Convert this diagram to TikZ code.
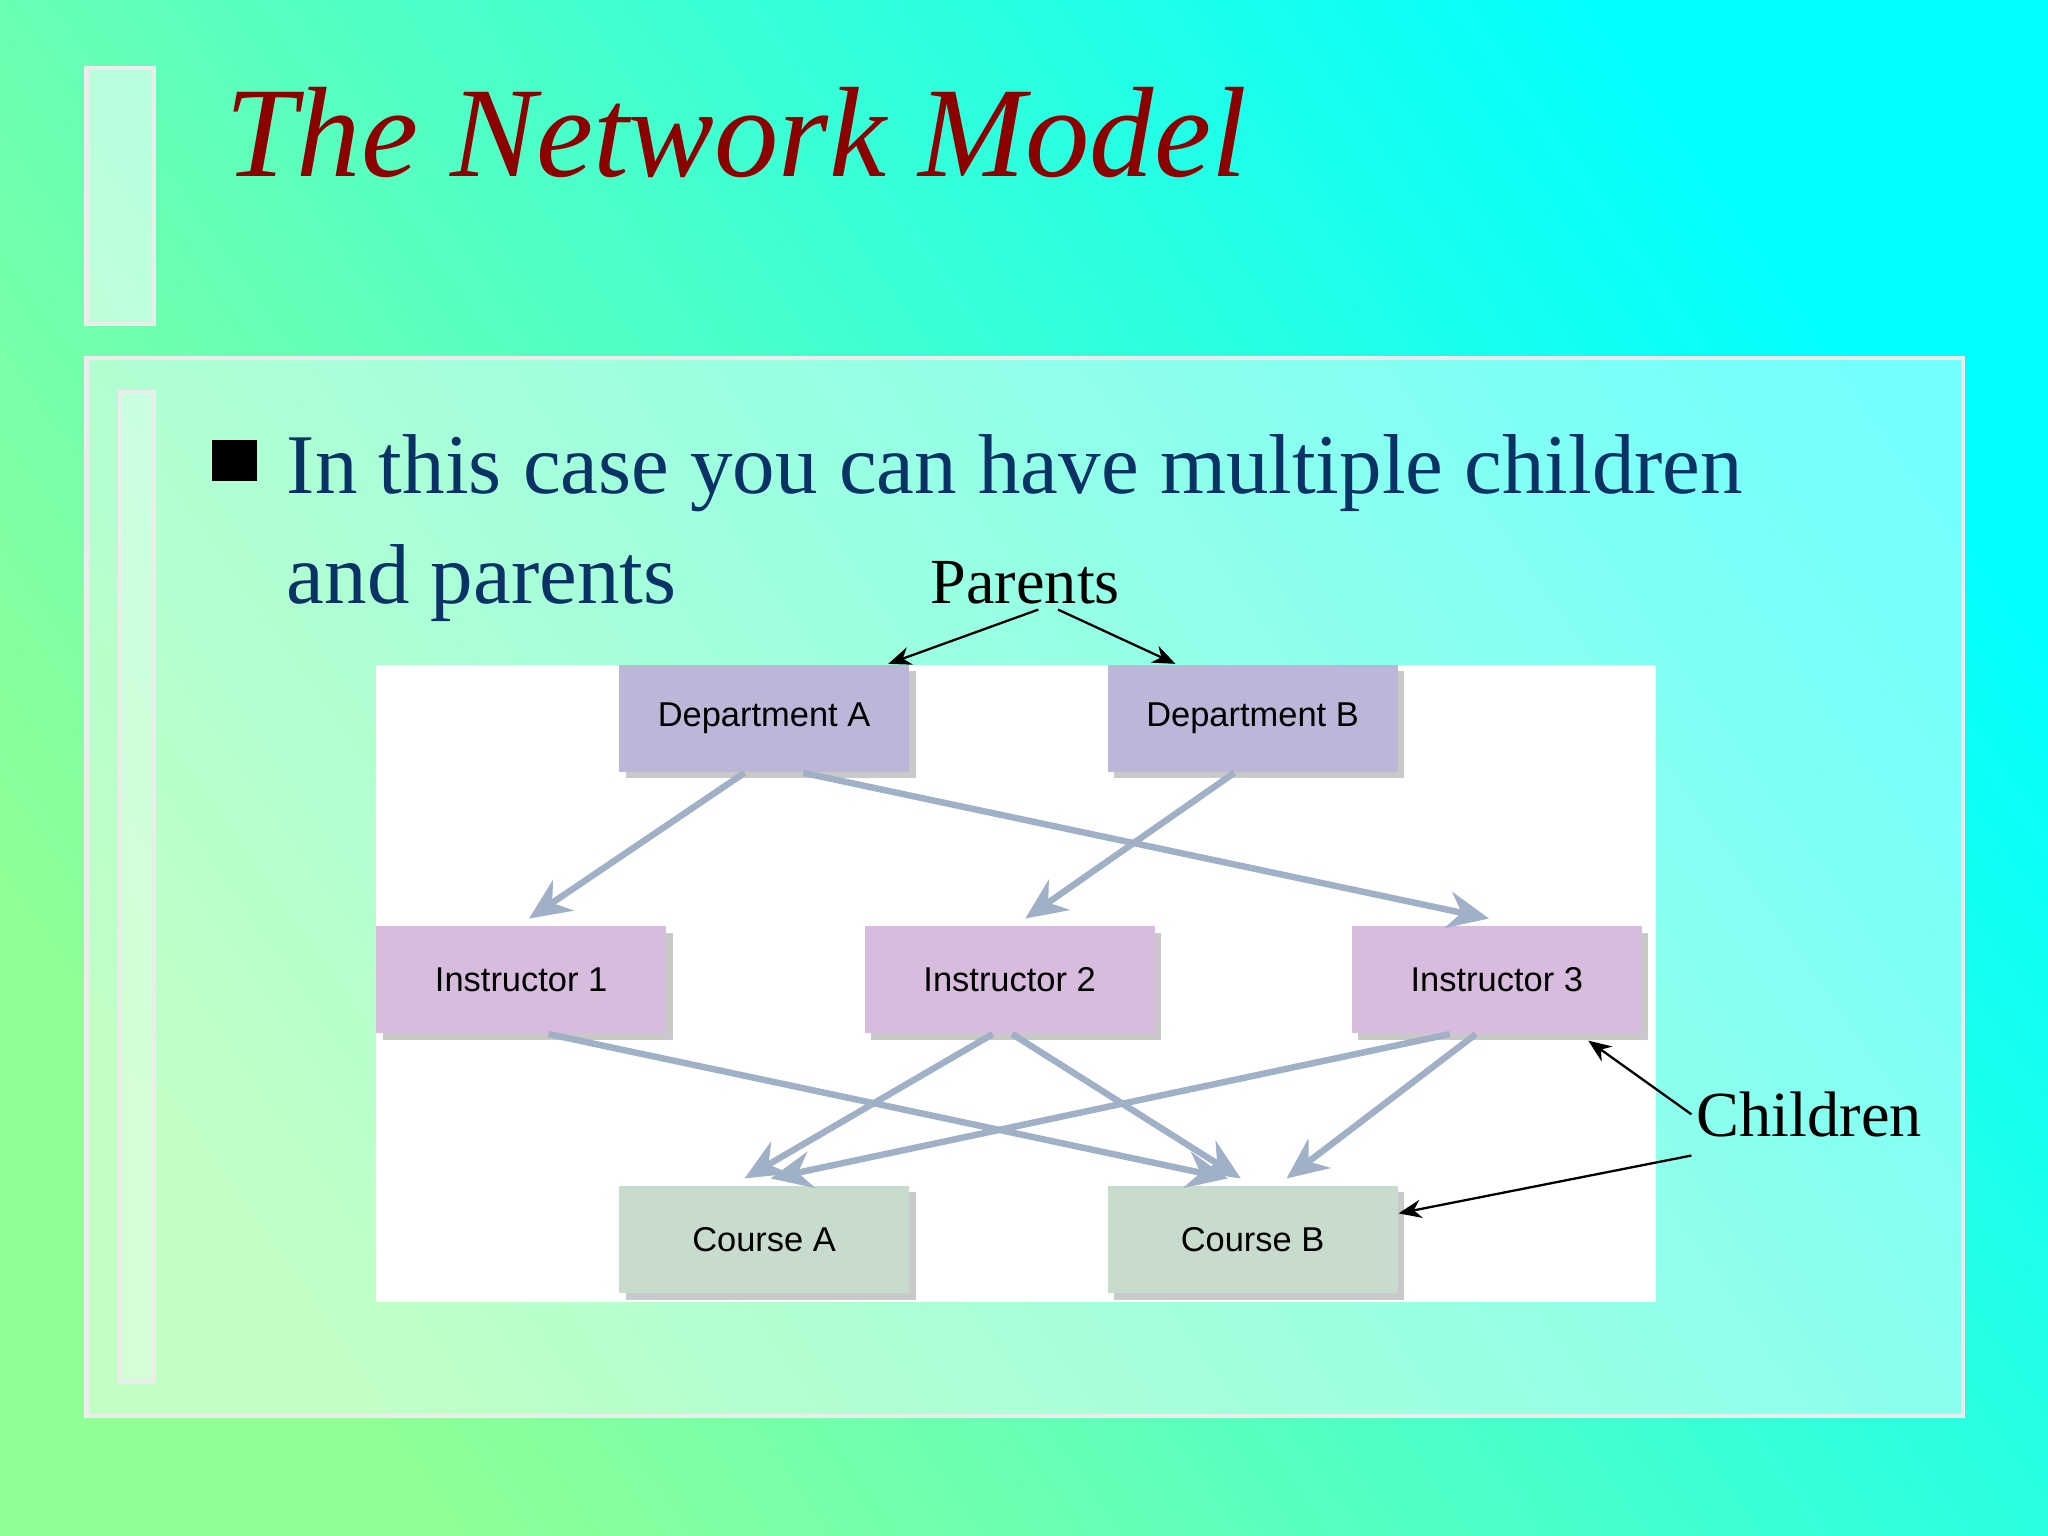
\documentclass[tikz,border=0pt]{standalone}
\usepackage{fontspec}
\setmainfont{Liberation Serif}
\newfontfamily\boxfont{Liberation Sans}
\usetikzlibrary{arrows.meta,shadows}
\definecolor{titlered}{RGB}{140,0,0}
\definecolor{bodyblue}{RGB}{10,50,100}
\definecolor{deptc}{RGB}{188,182,216}
\definecolor{instc}{RGB}{216,188,222}
\definecolor{coursec}{RGB}{200,220,206}
\definecolor{linkc}{RGB}{160,176,198}
\definecolor{bgul}{RGB}{145,255,150}
\definecolor{bglr}{RGB}{0,255,255}
\tikzset{
 box/.style={minimum width=2.22cm,minimum height=0.82cm,inner sep=0pt,font=\boxfont\fontsize{7.5}{9}\selectfont,
   drop shadow={shadow xshift=0.05cm,shadow yshift=-0.05cm,fill=black!35,opacity=0.6}},
 link/.style={draw=linkc,line width=1.4pt,-{Stealth[length=9pt,width=8pt]}},
 note/.style={draw=black,line width=0.5pt,-{Stealth[length=5pt,width=4pt]}}
}
\begin{document}
\begin{tikzpicture}[x=0.01cm,y=-0.01cm]
\useasboundingbox (0,0) rectangle (1568,1176);
\shade[left color=bgul,right color=bglr,shading angle=125] (0,0) rectangle (1568,1176);
\draw[draw=white!85!gray,fill=white,fill opacity=0.55,line width=1pt] (66,52) rectangle (118,248);
\node[anchor=base west,text=titlered,font=\itshape\fontsize{28}{32}\selectfont] (title) at (160,135) {The Network Model};
\draw[draw=white!85!gray,fill=white,fill opacity=0.45,line width=1pt] (66,274) rectangle (1503,1084);
\draw[draw=white!85!gray,fill=white,fill opacity=0.3,line width=1pt] (92,300) rectangle (118,1058);
\fill[black] (162,337) rectangle (197,368);
\node[anchor=base west,inner sep=0pt,text=bodyblue,font=\fontsize{18.5}{22}\selectfont] (l1) at (219,378) {In this case you can have multiple children};
\node[anchor=base west,inner sep=0pt,text=bodyblue,font=\fontsize{18.5}{22}\selectfont] (l2) at (219,462) {and parents};
\fill[white] (288,509) rectangle (1268,997);
\node[box,fill=deptc] (da) at (585,550) {Department A};
\node[box,fill=deptc] (db) at (959,550) {Department B};
\node[box,fill=instc] (i1) at (399,750) {Instructor 1};
\node[box,fill=instc] (i2) at (773,750) {Instructor 2};
\node[box,fill=instc] (i3) at (1146,750) {Instructor 3};
\node[box,fill=coursec] (ca) at (585,949) {Course A};
\node[box,fill=coursec] (cb) at (959,949) {Course B};
\draw[link] ([xshift=-0.15cm]da.south) -- ([xshift=0.06cm,yshift=0.05cm]i1.north);
\draw[link] ([xshift=0.3cm]da.south) -- ([xshift=-0.06cm,yshift=0.05cm]i3.north);
\draw[link] ([xshift=-0.14cm]db.south) -- ([xshift=0.12cm,yshift=0.05cm]i2.north);
\draw[link] ([xshift=0.21cm]i1.south) -- ([xshift=-0.19cm,yshift=0.05cm]cb.north);
\draw[link] ([xshift=-0.13cm]i2.south) -- ([xshift=-0.15cm,yshift=0.05cm]ca.north);
\draw[link] ([xshift=0.02cm]i2.south) -- ([xshift=-0.09cm,yshift=0.05cm]cb.north);
\draw[link] ([xshift=-0.36cm]i3.south) -- ([xshift=0.05cm,yshift=0.05cm]ca.north);
\draw[link] ([xshift=-0.16cm]i3.south) -- ([xshift=0.26cm,yshift=0.05cm]cb.north);
\node[anchor=base,inner sep=1pt,font=\fontsize{14}{16}\selectfont] (par) at (785,462) {Parents};
\node[anchor=base west,inner sep=1pt,font=\fontsize{14}{16}\selectfont] (chi) at (1295,870) {Children};
\draw[note] ([xshift=0.1cm]par.south) -- ([xshift=0.95cm]da.north);
\draw[note] ([xshift=0.25cm]par.south) -- ([xshift=-0.59cm]db.north);
\draw[note] (chi.west) -- ([xshift=0.7cm,yshift=-0.05cm]i3.south);
\draw[note] ([yshift=-0.1cm]chi.south west) -- ([yshift=0.2cm]cb.east);
\end{tikzpicture}
\end{document}
